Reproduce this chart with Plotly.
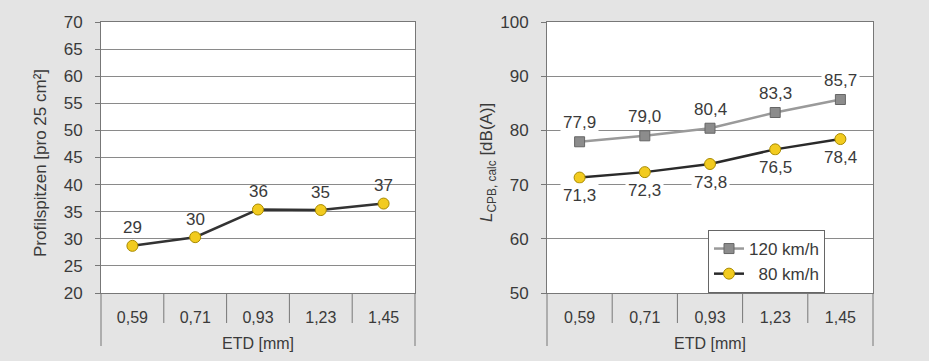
import plotly.graph_objects as go

# ---------------- data ----------------
etd_labels = ["0,59", "0,71", "0,93", "1,23", "1,45"]
profil_values = [28.7, 30.3, 35.4, 35.3, 36.5]
profil_labels = ["29", "30", "36", "35", "37"]
series_names = ["120 km/h", "80 km/h"]
l120_values = [77.9, 79.0, 80.4, 83.3, 85.7]
l80_values = [71.3, 72.3, 73.8, 76.5, 78.4]
left_yticks = [20, 25, 30, 35, 40, 45, 50, 55, 60, 65, 70]
right_yticks = [50, 60, 70, 80, 90, 100]


def de(v):
    return f"{v:.1f}".replace(".", ",")


xs = list(range(len(etd_labels)))

W, H = 929, 361
FONT = "Liberation Sans, Arial, sans-serif"
TXT = "#3a3a3a"
BG = "#e4e4e4"
GRID = "#8a8a8a"
FRAME = "#777777"
YEL = "#f2cb1f"
YEL_EDGE = "#a88a00"


def py(pix):
    """pixel row from top -> paper fraction"""
    return (H - pix) / H


fig = go.Figure()

# left chart
fig.add_trace(go.Scatter(
    x=xs, y=profil_values, mode="lines+markers", showlegend=False,
    line=dict(color="#333333", width=2.5),
    marker=dict(symbol="circle", size=11, color=YEL, line=dict(color=YEL_EDGE, width=1)),
    xaxis="x", yaxis="y", hoverinfo="skip"))

# right chart
fig.add_trace(go.Scatter(
    x=xs, y=l120_values, mode="lines+markers", name=series_names[0],
    line=dict(color="#9a9a9a", width=2.5),
    marker=dict(symbol="square", size=10, color="#8c8c8c", line=dict(color="#666666", width=1)),
    xaxis="x2", yaxis="y2", hoverinfo="skip"))
fig.add_trace(go.Scatter(
    x=xs, y=l80_values, mode="lines+markers", name="\u2007" + series_names[1],
    line=dict(color="#2a2a2a", width=2.5),
    marker=dict(symbol="circle", size=11, color=YEL, line=dict(color=YEL_EDGE, width=1)),
    xaxis="x2", yaxis="y2", hoverinfo="skip"))

annotations = []
for i, (v, t) in enumerate(zip(profil_values, profil_labels)):
    annotations.append(dict(x=xs[i], y=v, xref="x", yref="y", text=t, showarrow=False,
                            yanchor="middle", yshift=18,
                            font=dict(size=17, color=TXT, family=FONT)))
for i, v in enumerate(l120_values):
    annotations.append(dict(x=xs[i], y=v, xref="x2", yref="y2", text=de(v), showarrow=False,
                            yanchor="middle", yshift=19, bgcolor="white", borderpad=2,
                            font=dict(size=17, color=TXT, family=FONT)))
for i, v in enumerate(l80_values):
    annotations.append(dict(x=xs[i], y=v, xref="x2", yref="y2", text=de(v), showarrow=False,
                            yanchor="middle", yshift=-18, bgcolor="white", borderpad=2,
                            font=dict(size=17, color=TXT, family=FONT)))

# axis titles
annotations += [
    dict(x=40 / W, y=py(163), xref="paper", yref="paper", text="Profilspitzen [pro 25 cm²]",
         textangle=-90, showarrow=False, xanchor="center", yanchor="middle",
         font=dict(size=17, color=TXT, family=FONT)),
    dict(x=488 / W, y=py(163), xref="paper", yref="paper",
         text="<i>L</i><sub>CPB, calc</sub> [dB(A)]",
         textangle=-90, showarrow=False, xanchor="center", yanchor="middle",
         font=dict(size=17, color=TXT, family=FONT)),
    dict(x=0.5, y=py(343), xref="x domain", yref="paper", text="ETD [mm]", showarrow=False,
         xanchor="center", yanchor="middle", font=dict(size=16, color=TXT, family=FONT)),
    dict(x=0.5, y=py(343), xref="x2 domain", yref="paper", text="ETD [mm]", showarrow=False,
         xanchor="center", yanchor="middle", font=dict(size=16, color=TXT, family=FONT)),
]

YDOM = [py(293), py(22)]
shapes = []
for ax in ["x", "x2"]:
    n = len(etd_labels)
    for k in range(1, n):
        shapes.append(dict(type="line", xref=f"{ax} domain", yref="paper",
                           x0=k / n, x1=k / n, y0=py(323), y1=YDOM[0],
                           line=dict(color=FRAME, width=1)))
    for xe in (0, 1):
        shapes.append(dict(type="line", xref=f"{ax} domain", yref="paper",
                           x0=xe, x1=xe, y0=py(346), y1=YDOM[0],
                           line=dict(color=FRAME, width=1)))

xcommon = dict(range=[-0.5, len(etd_labels) - 0.5], tickvals=xs, ticktext=etd_labels,
               showgrid=False, zeroline=False, showline=True, mirror=True,
               linecolor=FRAME, linewidth=1, ticks="", ticklabelstandoff=10,
               automargin=False,
               tickfont=dict(size=16, color=TXT, family=FONT), fixedrange=True)
ycommon = dict(showgrid=True, gridcolor=GRID, gridwidth=1, zeroline=False,
               showline=True, mirror=True, linecolor=FRAME, linewidth=1,
               ticks="outside", ticklen=5, tickcolor=FRAME, ticklabelstandoff=9,
               automargin=False,
               tickfont=dict(size=17, color=TXT, family=FONT), fixedrange=True)

fig.update_layout(
    width=W, height=H,
    margin=dict(l=0, r=0, t=0, b=0, pad=0),
    paper_bgcolor=BG, plot_bgcolor="white",
    font=dict(family=FONT, color=TXT, size=16),
    xaxis=dict(domain=[101 / W, 415 / W], anchor="y", **xcommon),
    yaxis=dict(domain=YDOM, anchor="x", range=[20, 70], tickvals=left_yticks, **ycommon),
    xaxis2=dict(domain=[547 / W, 873 / W], anchor="y2", **xcommon),
    yaxis2=dict(domain=YDOM, anchor="x2", range=[50, 100], tickvals=right_yticks, **ycommon),
    legend=dict(x=708 / W, y=py(230), xanchor="left", yanchor="top",
                bgcolor="white", bordercolor="#666666", borderwidth=1,
                font=dict(size=17, color=TXT, family=FONT), tracegroupgap=0),
    annotations=annotations,
    shapes=shapes,
    showlegend=True,
)

fig.write_html(
    "out.html",
    config={"displayModeBar": False},
    post_script="document.body.style.margin='0';document.body.style.overflow='hidden';",
)
